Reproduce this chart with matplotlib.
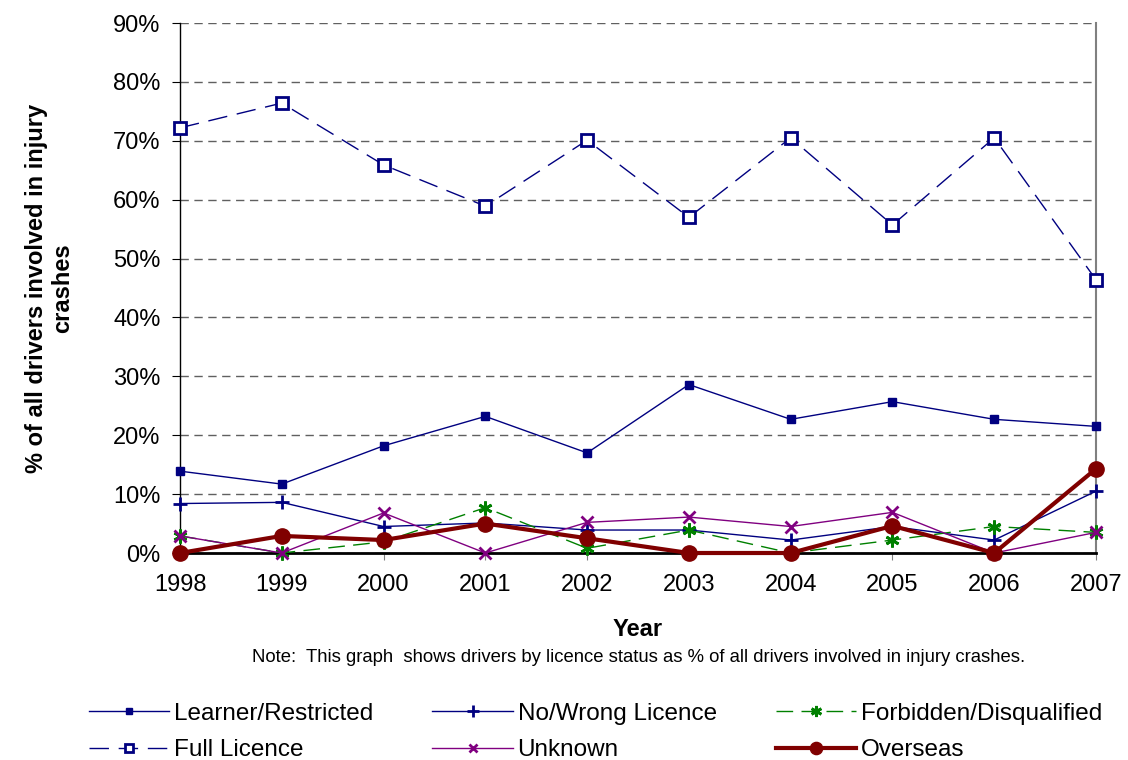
import matplotlib.pyplot as plt
from matplotlib.ticker import PercentFormatter

plt.rcParams['font.family'] = ['Liberation Sans', 'DejaVu Sans']

lata = [1998, 1999, 2000, 2001, 2002, 2003, 2004, 2005, 2006, 2007]
learner = [13.9, 11.7, 18.2, 23.2, 17.0, 28.6, 22.7, 25.7, 22.7, 21.5]
no_wrong = [8.4, 8.6, 4.5, 5.1, 3.9, 3.9, 2.2, 4.5, 2.2, 10.5]
forbidden = [2.9, 0.0, 1.9, 7.7, 0.8, 3.9, 0.0, 2.2, 4.5, 3.5]
full = [72.2, 76.4, 65.9, 58.9, 70.1, 57.0, 70.5, 55.7, 70.5, 46.4]
unknown = [2.9, 0.0, 6.8, 0.0, 5.2, 6.1, 4.5, 6.9, 0.0, 3.5]
overseas = [0.0, 2.9, 2.2, 5.0, 2.5, 0.0, 0.0, 4.6, 0.0, 14.3]

granat = '#000080'
zielony = '#008000'
fiolet = '#800080'
bordo = '#800000'

fig = plt.figure(figsize=(11.28, 7.6), dpi=100)
ax = fig.add_axes([180 / 1128, 1 - 553 / 760, 916 / 1128, 530 / 760])

l1, = ax.plot(lata, learner, color=granat, lw=1, marker='s', ms=6, label='Learner/Restricted', zorder=3, clip_on=False)
l2, = ax.plot(lata, no_wrong, color=granat, lw=1, marker='+', ms=10, mew=2, label='No/Wrong Licence', zorder=3, clip_on=False)
l3, = ax.plot(lata, forbidden, color=zielony, lw=1, dashes=(12, 6), marker=(6, 2, 0), ms=10, mew=2,
              label='Forbidden/Disqualified', zorder=3, clip_on=False)
l4, = ax.plot(lata, full, color=granat, lw=1, dashes=(14, 7), marker='s', ms=8, mfc='white', mew=2,
              label='Full Licence', zorder=3, clip_on=False)
l5, = ax.plot(lata, unknown, color=fiolet, lw=1, marker='x', ms=8, mew=2, label='Unknown', zorder=3, clip_on=False)
l6, = ax.plot(lata, overseas, color=bordo, lw=3, marker='o', ms=11, label='Overseas', zorder=4, clip_on=False)

ax.set_xlim(1998, 2007)
ax.set_ylim(0, 90)
ax.set_xticks(lata)
ax.set_yticks(range(0, 91, 10))
ax.yaxis.set_major_formatter(PercentFormatter(decimals=0))
ax.grid(axis='y', color='#606060', ls=(0, (6, 4)), lw=1)
ax.set_axisbelow(True)

ax.spines['top'].set_visible(False)
ax.spines['right'].set_color('#808080')
ax.spines['right'].set_linewidth(1.5)
ax.spines['bottom'].set_linewidth(2)
ax.spines['left'].set_linewidth(1)
ax.tick_params(axis='x', colors='#808080', length=5, labelcolor='black', labelsize=17, pad=10)
ax.tick_params(axis='y', length=6, labelsize=17, pad=8)

ax.set_xlabel('Year', fontsize=17, fontweight='bold', labelpad=16)
ax.set_ylabel('% of all drivers involved in injury\ncrashes', fontsize=17, fontweight='bold', labelpad=28)

fig.text(0.566, 1 - 657 / 760, 'Note:  This graph  shows drivers by licence status as % of all drivers involved in injury crashes.',
         ha='center', va='center', fontsize=13.3)

# kolejnosc wierszami jak w oryginale
uchwyty = [l1, l4, l2, l5, l3, l6]
fig.legend(handles=uchwyty, loc='center', bbox_to_anchor=(0.528, 1 - 732 / 760), ncol=3, frameon=False, fontsize=17.5,
           handlelength=3.3, columnspacing=2.45, handletextpad=0.2, labelspacing=0.6, markerscale=0.8)

plt.savefig('out.png', dpi=100)
